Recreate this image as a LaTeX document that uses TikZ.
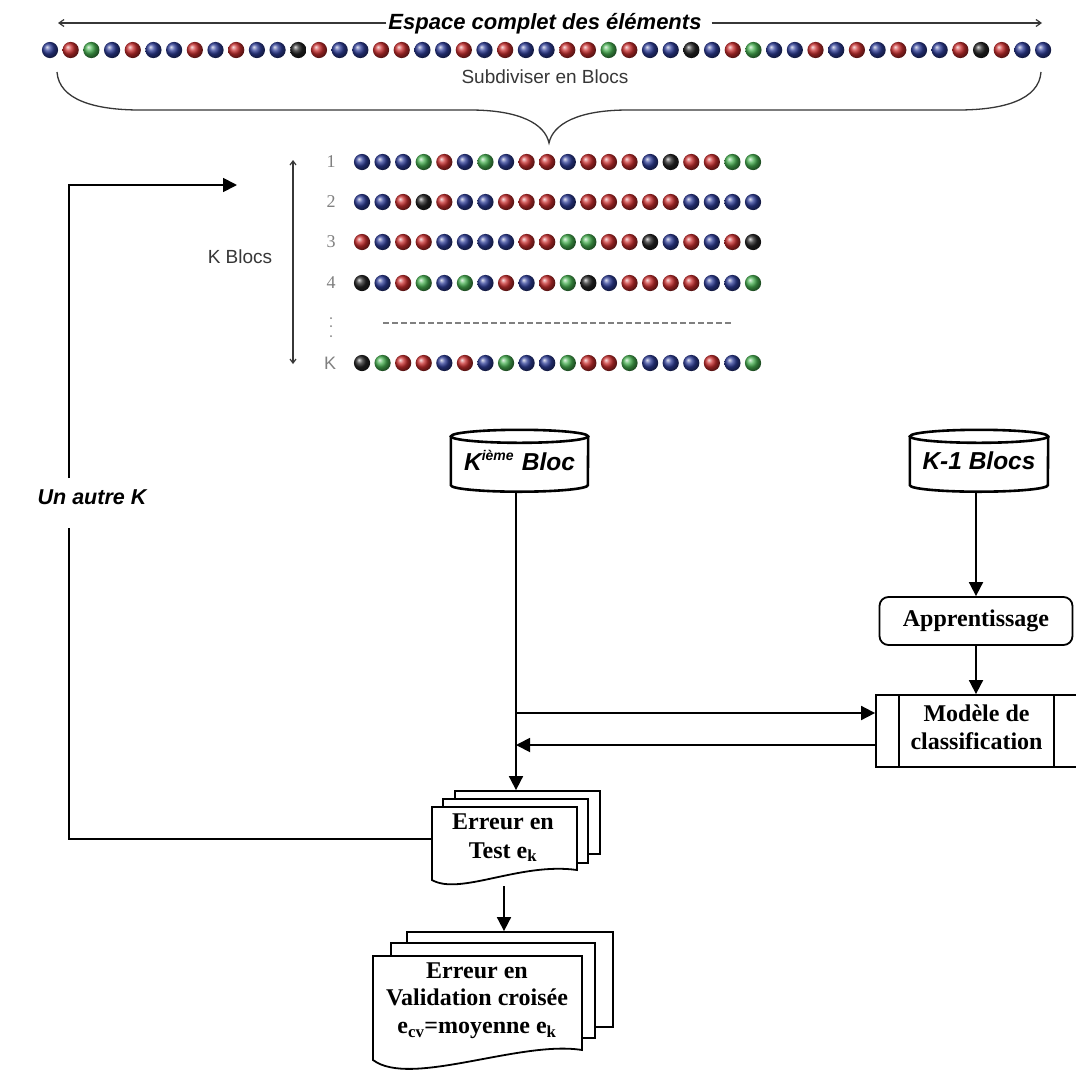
\documentclass[tikz,border=0pt]{standalone}
\usepackage{fontspec}
\setmainfont{Liberation Serif}
\setsansfont{Liberation Sans}
\usetikzlibrary{arrows.meta}
\definecolor{ballB}{RGB}{45,60,150}
\definecolor{ballR}{RGB}{200,45,45}
\definecolor{ballG}{RGB}{70,175,80}
\definecolor{ballK}{RGB}{35,35,35}
\definecolor{txtgray}{RGB}{55,55,55}
\newcommand{\supx}[1]{\raisebox{10pt}{\fontsize{14}{14}\selectfont #1}}
\begin{document}
\begin{tikzpicture}[x=1pt,y=-1pt,
  flow/.style={line width=1.8pt},
  arr/.style={flow,-{Triangle[length=14pt,width=14pt]}},
  thinln/.style={line width=1.2pt, draw=txtgray},
  sheet/.style={fill=white,draw,line width=1.8pt,inner sep=0pt},
  cylline/.style={line width=2.6pt},
  boxtext/.style={font=\fontsize{24}{28}\selectfont\bfseries, align=center},
  cyltext/.style={font=\sffamily\bfseries\itshape\fontsize{24.5}{28}\selectfont},
  rowlab/.style={font=\fontsize{18}{20}\selectfont, text=gray},
  ballr/.style={radius=8.1pt}
]
\useasboundingbox (0,0) rectangle (1076,1071);
\fill[white] (0,0) rectangle (1076,1071);

% ---- top label and arrows
\node[font=\sffamily\bfseries\itshape\fontsize{22}{26}\selectfont, inner sep=2pt] (esp) at (545,24) {Espace complet des éléments};
\coordinate (tl) at (58,23);
\coordinate (tr) at (1042,23);
\draw[thinln,-{Straight Barb[length=5pt,width=7pt]}] (esp.west |- tl) -- (tl);
\draw[thinln,-{Straight Barb[length=5pt,width=7pt]}] ([xshift=8pt]esp.east |- tr) -- (tr);

% ---- top row of balls
\foreach \c [count=\i from 0] in {B,R,G,B,R,B,B,R,B,R,B,B,K,R,B,B,R,R,B,B,R,B,R,B,B,R,R,G,R,B,B,K,B,R,G,B,B,R,B,R,B,R,B,B,R,K,R,B,B}
  \shade[ball color=ball\c] ({50+\i*20.69},50) circle[ballr];

\node[font=\sffamily\fontsize{19}{22}\selectfont, text=txtgray] (sub) at (545,77) {Subdiviser en Blocs};

% ---- brace
\draw[line width=1.3pt, txtgray]
  (57,72) .. controls (59,100) and (95,110) .. (140,110) -- (470,110)
  .. controls (520,110) and (545,124) .. (549,143)
  .. controls (553,124) and (578,110) .. (628,110) -- (958,110)
  .. controls (1003,110) and (1039,100) .. (1041,72);

% ---- K blocks
\foreach \c [count=\i from 0] in {B,B,B,G,R,B,G,B,R,R,B,R,R,R,B,K,R,R,G,G}
  \shade[ball color=ball\c] ({362+\i*20.58},162) circle[ballr];
\foreach \c [count=\i from 0] in {B,B,R,K,R,B,B,R,R,R,B,R,R,R,R,R,B,B,B,B}
  \shade[ball color=ball\c] ({362+\i*20.58},202) circle[ballr];
\foreach \c [count=\i from 0] in {R,B,R,R,B,B,B,B,R,R,G,G,R,R,K,B,R,B,R,K}
  \shade[ball color=ball\c] ({362+\i*20.58},242) circle[ballr];
\foreach \c [count=\i from 0] in {K,B,R,G,B,G,B,R,B,R,G,K,B,R,R,R,R,B,B,G}
  \shade[ball color=ball\c] ({362+\i*20.58},283) circle[ballr];
\foreach \c [count=\i from 0] in {K,G,R,R,B,R,B,G,B,B,G,R,R,G,B,B,B,R,B,G}
  \shade[ball color=ball\c] ({362+\i*20.58},363) circle[ballr];

\node[rowlab] (r1) at (331,162) {1};
\node[rowlab] (r2) at (331,202) {2};
\node[rowlab] (r3) at (331,242) {3};
\node[rowlab] (r4) at (331,283) {4};
\node[rowlab, font=\sffamily\fontsize{18}{20}\selectfont] (rk) at (330,363) {K};
\fill[gray] (331,318) circle[radius=1pt] (331,326) circle[radius=1pt] (331,336) circle[radius=1pt];
\draw[gray, line width=1.2pt, dash pattern=on 6pt off 3pt] (383,323) -- (732,323);

\coordinate (va) at (293,160);
\coordinate (vb) at (293,364);
\draw[thinln,{Straight Barb[length=4pt,width=6pt]}-{Straight Barb[length=4pt,width=6pt]}] (va) -- (vb);
\node[font=\sffamily\fontsize{19}{22}\selectfont, text=txtgray] (kbl) at (240,257) {K Blocs};

% ---- cylinders
\node[cyltext, minimum width=137pt, minimum height=61.5pt, inner sep=0pt] (kb) at (519.5,460.75) {K\supx{ième}\,\,Bloc};
\draw[cylline] ([yshift=-6.5pt]kb.north west) -- ([yshift=6.5pt]kb.south west)
  arc[start angle=180,end angle=360,x radius=68.5pt,y radius=6.5pt] -- ([yshift=-6.5pt]kb.north east);
\draw[cylline] ([yshift=-6.5pt]kb.north) ellipse[x radius=68.5pt, y radius=6.5pt];

\node[cyltext, minimum width=138pt, minimum height=61.5pt, inner sep=0pt] (k1) at (979,460.75) {K-1 Blocs};
\draw[cylline] ([yshift=-6.5pt]k1.north west) -- ([yshift=6.5pt]k1.south west)
  arc[start angle=180,end angle=360,x radius=69pt,y radius=6.5pt] -- ([yshift=-6.5pt]k1.north east);
\draw[cylline] ([yshift=-6.5pt]k1.north) ellipse[x radius=69pt, y radius=6.5pt];

% ---- right column
\node[boxtext, draw, line width=1.8pt, rounded corners=9pt, minimum width=193pt, minimum height=48pt, inner sep=0pt] (app) at (976,621) {Apprentissage};
\node[draw, line width=1.8pt, minimum width=202pt, minimum height=72pt, inner sep=0pt] (mod) at (977,731) {};
\draw[line width=1.8pt] ([xshift=24pt]mod.north west) -- ([xshift=24pt]mod.south west);
\draw[line width=1.8pt] ([xshift=-25pt]mod.north east) -- ([xshift=-25pt]mod.south east);
\node[boxtext] (modt) at (976.5,727) {Modèle de\\classification};

\draw[arr] ([yshift=-1pt]k1.south -| app.north) -- (app.north);
\draw[arr] (app.south) -- (app.south |- mod.north);

% ---- error stacks
\node[sheet, minimum width=145pt, minimum height=63pt] (s1b) at (527.5,822.5) {};
\node[sheet, minimum width=145pt, minimum height=64pt] (s1m) at (515.5,831) {};
\draw[sheet] (432,807) -- (577,807) -- (577,870) .. controls (520,862) and (460,896) .. (432,880) -- cycle;
\node[boxtext, font=\fontsize{24}{29}\selectfont\bfseries] (err1) at (503,837.5) {Erreur en\\Test e\textsubscript{k}};

\node[sheet, minimum width=206pt, minimum height=95pt] (s2b) at (510,979.5) {};
\node[sheet, minimum width=204pt, minimum height=95pt] (s2m) at (493,990.5) {};
\draw[sheet] (373,956) -- (582,956) -- (582,1050) .. controls (520,1040) and (410,1088) .. (373,1060) -- cycle;
\node[boxtext, font=\fontsize{24}{27.5}\selectfont\bfseries] (err2) at (477,1000.5) {Erreur en\\Validation croisée\\e\textsubscript{cv}=moyenne e\textsubscript{k}};

% ---- main connectors
\coordinate (j1) at (516,713);
\coordinate (j2) at (516,745);
\draw[arr] ([yshift=-1pt]kb.south -| j1) -- (j1 |- s1b.north);
\draw[arr] (j1) -- (j1 -| mod.west);
\draw[arr] (j2 -| mod.west) -- (j2);
\coordinate (w1) at (504,886);
\draw[arr] (w1) -- (w1 |- s2b.north);

% ---- loop back
\node[font=\sffamily\bfseries\itshape\fontsize{21.5}{25}\selectfont] (auk) at (92,497) {Un autre K};
\coordinate (lp0) at (432,839);
\coordinate (lp1) at (69,839);
\coordinate (lp2) at (69,528);
\coordinate (lp3) at (69,478);
\coordinate (lp4) at (69,185);
\coordinate (lp5) at (237,185);
\draw[flow] (lp0) -- (lp1) -- (lp2);
\draw[arr] (lp3) -- (lp4) -- (lp5);
\end{tikzpicture}
\end{document}
